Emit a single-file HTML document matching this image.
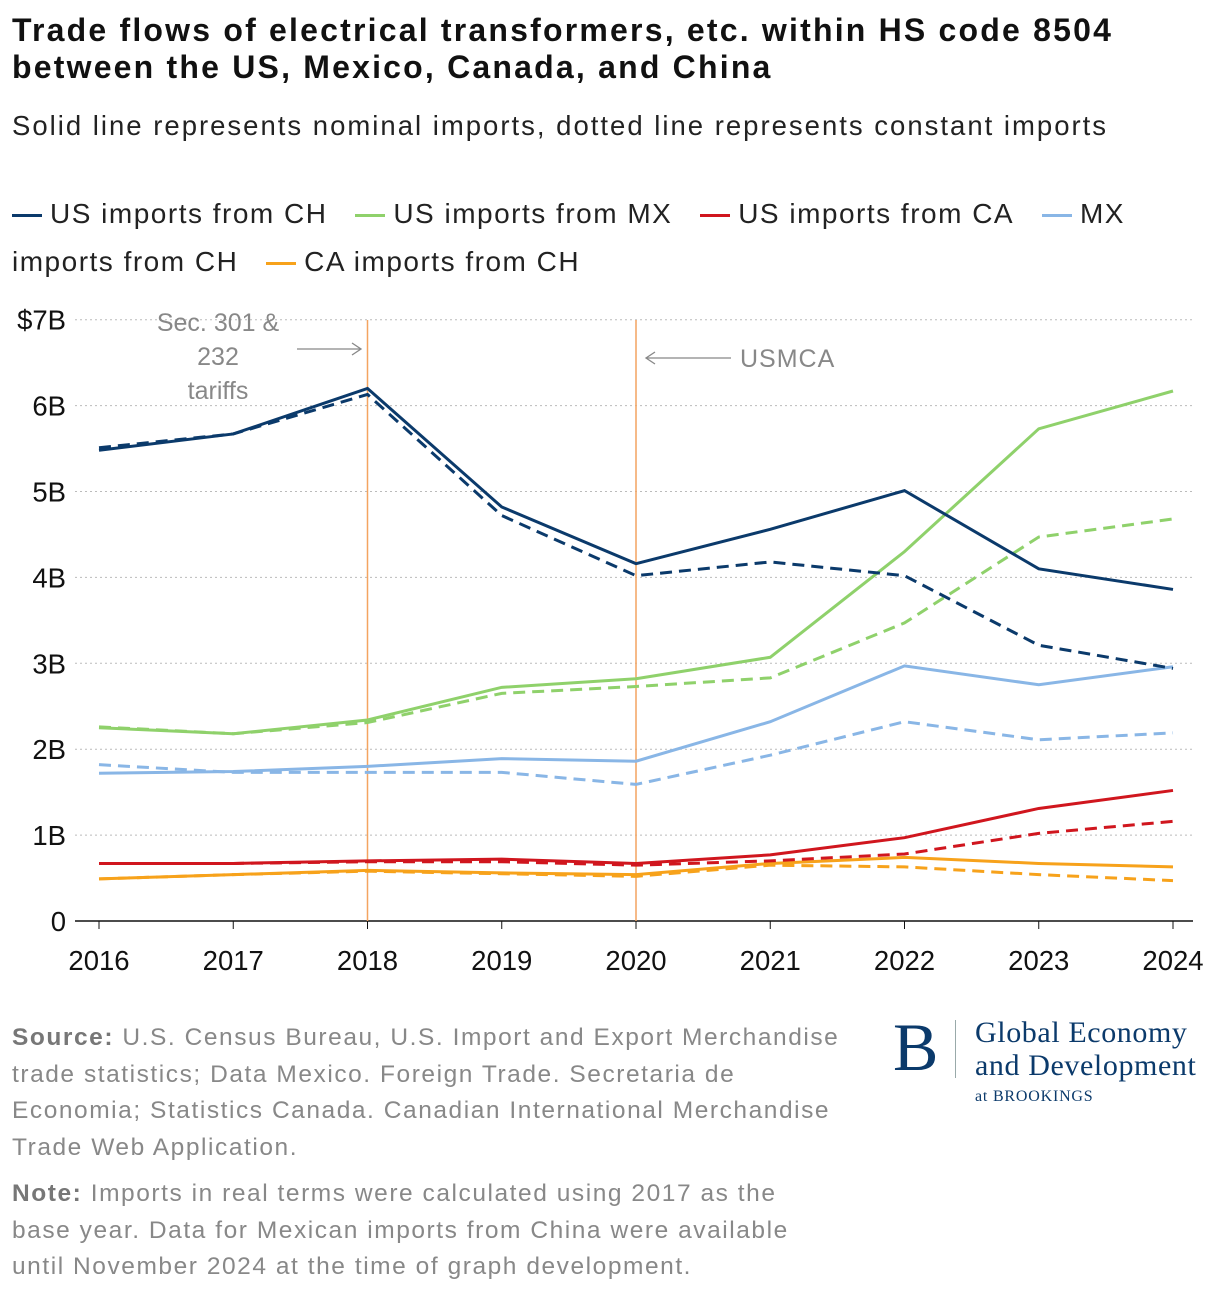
<!DOCTYPE html>
<html><head><meta charset="utf-8"><style>
body{margin:0;background:#fff;width:1220px;height:1298px;overflow:hidden;font-family:"Liberation Sans",sans-serif;color:#111}
.t{position:absolute;left:12px;top:12px;font-size:32px;font-weight:bold;line-height:37px;white-space:nowrap;letter-spacing:2.2px}
.st{position:absolute;left:12px;top:110px;font-size:27.5px;color:#222;white-space:nowrap;letter-spacing:2px}
.lg{position:absolute;left:12px;top:190px;font-size:28px;line-height:48px;white-space:nowrap;color:#222;letter-spacing:1.5px}
.lg span.i{display:inline-block;width:30px;height:3px;vertical-align:middle;margin-right:8px}
.ft{position:absolute;left:12px;font-size:24.5px;line-height:36.7px;color:#888;white-space:nowrap;letter-spacing:1.55px}
.ft b{color:#777}
</style></head><body>
<div class="t">Trade flows of electrical transformers, etc. within HS code 8504<br>between the US, Mexico, Canada, and China</div>
<div class="st">Solid line represents nominal imports, dotted line represents constant imports</div>
<div class="lg">
<span><span class="i" style="background:#0b3a6b"></span>US imports from CH</span>&nbsp;&nbsp;
<span><span class="i" style="background:#8fd16b"></span>US imports from MX</span>&nbsp;&nbsp;
<span><span class="i" style="background:#d0161e"></span>US imports from CA</span>&nbsp;&nbsp;
<span><span class="i" style="background:#89b6e6"></span>MX<br>imports from CH</span>&nbsp;&nbsp;
<span><span class="i" style="background:#f7a21b"></span>CA imports from CH</span>
</div>
<svg id="c" width="1220" height="1000" style="position:absolute;left:0;top:0"></svg>
<div class="ft" style="top:1020px"><b>Source:</b> U.S. Census Bureau, U.S. Import and Export Merchandise<br>trade statistics; Data Mexico. Foreign Trade. Secretaria de<br>Economia; Statistics Canada. Canadian International Merchandise<br>Trade Web Application.</div>
<div class="ft" style="top:1176px"><b>Note:</b> Imports in real terms were calculated using 2017 as the<br>base year. Data for Mexican imports from China were available<br>until November 2024 at the time of graph development.</div>
<div style="position:absolute;left:893px;top:1012px;font-family:'Liberation Serif',serif;color:#0b3a6b">
<div style="position:absolute;left:0;top:0;font-size:68px;line-height:70px">B</div>
<div style="position:absolute;left:62px;top:8px;width:1px;height:58px;background:#9aa"></div>
<div style="position:absolute;left:82px;top:4px;font-size:30px;line-height:33px;white-space:nowrap;letter-spacing:0.6px">Global Economy<br>and Development</div>
<div style="position:absolute;left:82px;top:76px;font-size:16px;white-space:nowrap;letter-spacing:0.8px">at BROOKINGS</div>
</div>
<script>
const years=[2016,2017,2018,2019,2020,2021,2022,2023,2024];
const yTicks=[0,1,2,3,4,5,6,7];
const yTickLabels=["0","1B","2B","3B","4B","5B","6B","$7B"];
const usChNom=[5.48,5.67,6.2,4.82,4.16,4.56,5.01,4.1,3.86];
const usChCon=[5.51,5.67,6.13,4.72,4.02,4.18,4.02,3.21,2.94];
const usMxNom=[2.25,2.18,2.34,2.72,2.82,3.07,4.3,5.73,6.17];
const usMxCon=[2.26,2.18,2.31,2.65,2.73,2.83,3.47,4.47,4.68];
const usCaNom=[0.67,0.67,0.7,0.72,0.67,0.77,0.97,1.31,1.52];
const usCaCon=[0.67,0.67,0.69,0.69,0.65,0.7,0.78,1.02,1.16];
const mxChNom=[1.72,1.74,1.8,1.89,1.86,2.32,2.97,2.75,2.96];
const mxChCon=[1.82,1.73,1.73,1.73,1.59,1.93,2.32,2.11,2.19];
const caChNom=[0.49,0.54,0.59,0.56,0.54,0.67,0.74,0.67,0.63];
const caChCon=[0.49,0.54,0.58,0.55,0.52,0.65,0.63,0.54,0.47];
const NS="http://www.w3.org/2000/svg",svg=document.getElementById('c');
const X=y=>99+(y-2016)*134.25, Y=v=>921-v*85.9;
function el(t,a,p){const e=document.createElementNS(NS,t);for(const k in a)e.setAttribute(k,a[k]);(p||svg).appendChild(e);return e;}
yTicks.forEach((v,i)=>{
 if(v>0){const g=el('line',{x1:75,x2:1193,y1:Y(v),y2:Y(v),stroke:'#bbb','stroke-dasharray':'2,3'});
 
 }
 const t=el('text',{x:66,y:Y(v)+10,'text-anchor':'end','font-size':27.5,fill:'#111'});t.textContent=yTickLabels[i];
 
 
});
const ax=el('line',{x1:75,x2:1193,y1:921,y2:921,stroke:'#111','stroke-width':1.5});


years.forEach(y=>{el('line',{x1:X(y),x2:X(y),y1:921,y2:929,stroke:'#111'});
 const t=el('text',{x:X(y),y:970,'text-anchor':'middle','font-size':27.5,fill:'#111'});t.textContent=y;
 
 });
[2018,2020].forEach(y=>{const l=el('line',{x1:X(y),x2:X(y),y1:320,y2:921,stroke:'#f4a460','stroke-width':1.5});
 
 });
[["Sec. 301 &",218,331],["232",218,365],["tariffs",218,399]].forEach(a=>{const t=el('text',{x:a[1],y:a[2],'text-anchor':'middle','font-size':25,fill:'#888'});t.textContent=a[0];
 
 });
const u=el('text',{x:740,y:367,'font-size':25,fill:'#888','letter-spacing':1});u.textContent="USMCA";


el('path',{d:'M297 349H360M352 343L361 349L352 355',stroke:'#888',fill:'none','stroke-width':1.3});
el('path',{d:'M731 358H647M655 352L646 358L655 364',stroke:'#888',fill:'none','stroke-width':1.3});
const series=[[caChCon,'#f7a21b',1,'ca-ch-constant'],[caChNom,'#f7a21b',0,'ca-ch-nominal'],[usCaCon,'#d0161e',1,'us-ca-constant'],[usCaNom,'#d0161e',0,'us-ca-nominal'],
[mxChCon,'#89b6e6',1,'mx-ch-constant'],[mxChNom,'#89b6e6',0,'mx-ch-nominal'],[usMxCon,'#8fd16b',1,'us-mx-constant'],[usMxNom,'#8fd16b',0,'us-mx-nominal'],
[usChCon,'#0b3a6b',1,'us-ch-constant'],[usChNom,'#0b3a6b',0,'us-ch-nominal']];
series.forEach(s=>{const p=el('polyline',{points:s[0].map((v,i)=>X(years[i])+','+Y(v)).join(' '),fill:'none',stroke:s[1],'stroke-width':3,'stroke-dasharray':s[2]?'12,7':'none'});
 
 });
</script>
</body></html>
